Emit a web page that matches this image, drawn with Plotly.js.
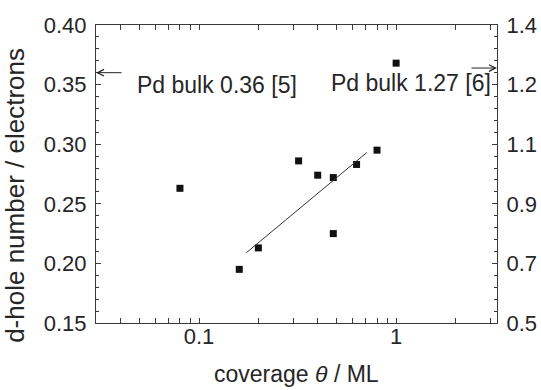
<!DOCTYPE html>
<html>
<head>
<meta charset="utf-8">
<script src="https://cdn.plot.ly/plotly-3.0.1.min.js"></script>
<style>html,body{margin:0;padding:0;background:#fff;}#chart{width:541px;height:390px;}</style>
</head>
<body>
<div id="chart"></div>
<script>
// Data
const coverage = [0.08, 0.16, 0.2, 0.32, 0.4, 0.48, 0.48, 0.63, 0.8, 1.0];
const dhole = [0.263, 0.195, 0.213, 0.286, 0.274, 0.272, 0.225, 0.283, 0.295, 0.368];
const fitX = [0.174, 0.71];
const fitY = [0.209, 0.293];
const xTickVals = [0.1, 1];
const xTickText = ['0.1', '1'];
const xMinorVals = [0.04,0.05,0.06,0.07,0.08,0.09,0.2,0.3,0.4,0.5,0.6,0.7,0.8,0.9,2,3];
const yLeftTicks = [0.15, 0.20, 0.25, 0.30, 0.35, 0.40];
const yLeftText = ['0.15', '0.20', '0.25', '0.30', '0.35', '0.40'];
const yRightTicks = [0.5, 0.68, 0.86, 1.04, 1.22, 1.4];
const yRightText = ['0.5', '0.7', '0.9', '1.1', '1.2', '1.4'];
const bulkLeft = 0.36, bulkRight = 1.27;

const txt = '#262626', ln = '#3a3a3a';
const FAM = 'Liberation Sans, Arial, sans-serif';
const F = {family: FAM, size: 22, color: txt};
const FA = {family: FAM, size: 23, color: txt};

const traces = [
  {x: coverage, y: dhole, type: 'scatter', mode: 'markers',
   marker: {symbol: 'square', size: 7, color: '#111'}, showlegend: false, hoverinfo: 'skip'},
  {x: fitX, y: fitY, type: 'scatter', mode: 'lines',
   line: {color: '#333', width: 1}, showlegend: false, hoverinfo: 'skip'},
  {x: [1], y: [1.0], yaxis: 'y2', type: 'scatter', mode: 'markers',
   marker: {opacity: 0}, showlegend: false, hoverinfo: 'skip'}
];

const layout = {
  width: 541, height: 390,
  margin: {l: 96, r: 44, t: 25, b: 67},
  paper_bgcolor: '#fff', plot_bgcolor: '#fff',
  font: F,
  xaxis: {type: 'log', range: [Math.log10(0.03), Math.log10(3.25)],
    tickmode: 'array', tickvals: xTickVals, ticktext: xTickText,
    ticks: 'inside', ticklen: 5, tickwidth: 1, tickcolor: ln,
    minor: {tickmode: 'array', tickvals: xMinorVals, ticks: 'inside', ticklen: 3, tickcolor: ln, showgrid: false},
    showline: true, linecolor: ln, linewidth: 1, mirror: 'allticks',
    showgrid: false, zeroline: false, tickfont: F, ticklabelstandoff: -6},
  yaxis: {range: [0.15, 0.40], tickmode: 'array', tickvals: yLeftTicks, ticktext: yLeftText,
    ticks: 'inside', ticklen: 5, tickwidth: 1, tickcolor: ln,
    minor: {dtick: 0.01, tick0: 0.15, ticks: 'inside', ticklen: 3, tickcolor: ln, showgrid: false},
    showline: true, linecolor: ln, linewidth: 1,
    showgrid: false, zeroline: false, tickfont: F, ticklabelstandoff: 4},
  yaxis2: {overlaying: 'y', side: 'right', range: [0.5, 1.4],
    tickmode: 'array', tickvals: yRightTicks, ticktext: yRightText,
    ticks: 'inside', ticklen: 5, tickwidth: 1, tickcolor: ln,
    minor: {dtick: 0.036, tick0: 0.5, ticks: 'inside', ticklen: 3, tickcolor: ln, showgrid: false},
    showline: true, linecolor: ln, linewidth: 1,
    showgrid: false, zeroline: false, tickfont: F, ticklabelstandoff: 4},
  annotations: [
    {xref: 'paper', yref: 'paper', x: -0.202, y: 0.43, textangle: -90,
     xanchor: 'center', yanchor: 'middle', text: 'd-hole number / electrons',
     showarrow: false, font: {family: FAM, size: 26, color: txt}},
    {xref: 'paper', yref: 'paper', x: 0.5, y: -0.172, xanchor: 'center', yanchor: 'middle',
     text: 'coverage <i>θ</i> / ML', showarrow: false, font: FA},
    {xref: 'paper', yref: 'y', x: 0, y: bulkLeft, ax: 27, ay: 0, text: '',
     showarrow: true, arrowhead: 5, arrowsize: 1.3, arrowwidth: 1, arrowcolor: '#222'},
    {xref: 'paper', yref: 'y', x: 0.0985, y: bulkLeft, xanchor: 'left', yanchor: 'top', yshift: 3,
     text: 'Pd bulk 0.36 [5]', showarrow: false, font: FA},
    {xref: 'paper', yref: 'y2', x: 1, y: bulkRight, ax: -27, ay: 0, text: '',
     showarrow: true, arrowhead: 5, arrowsize: 1.3, arrowwidth: 1, arrowcolor: '#222'},
    {xref: 'paper', yref: 'y2', x: 0.99, y: bulkRight, xanchor: 'right', yanchor: 'top', yshift: 0,
     text: 'Pd bulk 1.27 [6]', showarrow: false, font: FA}
  ]
};

Plotly.newPlot('chart', traces, layout, {displayModeBar: false, staticPlot: true});
</script>
</body>
</html>
